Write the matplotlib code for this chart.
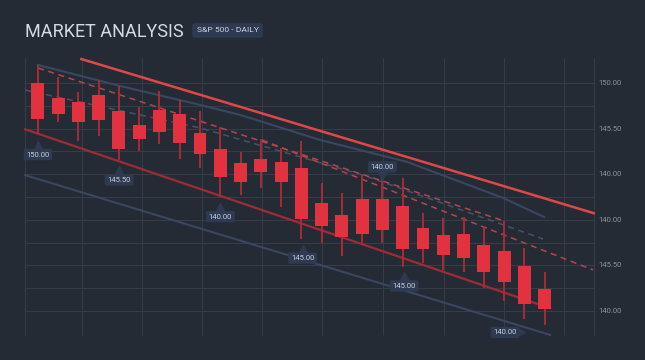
import matplotlib.pyplot as plt
import numpy as np

# daily candles (all bearish): open, close, high, low
opens  = [150.01, 149.36, 149.17, 149.46, 148.77, 148.17, 148.82, 148.64, 147.79, 147.12,
          146.48, 146.67, 146.52, 146.27, 144.75, 144.21, 144.91, 144.91, 144.62, 143.63,
          143.35, 143.36, 142.89, 142.64, 141.99, 140.95]
closes = [148.42, 148.65, 148.28, 148.38, 147.12, 147.54, 147.85, 147.37, 146.89, 145.86,
          145.64, 146.10, 145.64, 144.02, 143.74, 143.25, 143.38, 143.54, 142.72, 142.72,
          142.44, 142.32, 141.70, 141.29, 140.31, 140.10]
highs  = [150.79, 150.25, 149.62, 150.13, 149.87, 148.96, 149.66, 149.25, 148.77, 148.06,
          146.99, 147.56, 147.14, 147.47, 145.60, 145.19, 145.96, 146.21, 145.83, 144.29,
          144.07, 144.11, 143.67, 143.95, 142.75, 141.72]
lows   = [147.76, 148.28, 147.46, 147.69, 146.62, 147.02, 147.32, 146.67, 146.29, 145.01,
          145.09, 145.41, 144.55, 143.16, 142.97, 142.41, 142.89, 142.97, 141.94, 142.09,
          141.80, 141.72, 141.00, 140.45, 139.65, 139.39]

# trend / channel lines (x = candle index, y = price)
top_red_x, top_red_y = [2.15, 27.42], [151.05, 144.29]
blue_up_x = [0.01, 4.06, 8.0, 9.98, 13.93, 18.21, 22.95, 24.97]
blue_up_y = [150.79, 149.87, 149.04, 148.60, 147.50, 146.54, 144.96, 144.12]
blue_low_x, blue_low_y = [-0.63, 25.27], [145.96, 138.95]
red_low_x, red_low_y = [-0.63, 25.27], [147.97, 140.12]
dash_r1_x, dash_r1_y = [0.01, 23.0], [150.66, 143.95]
dash_r2_x, dash_r2_y = [11.06, 27.39], [147.50, 141.80]
dash_b_x = [-0.63, 8.0, 16.04, 24.92]
dash_b_y = [149.69, 148.03, 145.96, 143.16]

# price badges: x, y, text, pointer side
badge_x = [0.01, 4.01, 9.01, 13.06, 18.07, 23.05, 17.0]
badge_y = [146.86, 145.75, 144.14, 142.32, 141.10, 139.06, 146.32]
badge_txt = ['150.00', '145.50', '140.00', '145.00', '145.00', '140.00', '140.00']
badge_ptr = ['up', 'up', 'up', 'up', 'up', 'right', 'down']

# axis labels on the right
tick_pos = [150, 148, 146, 144, 142, 140]
tick_lab = ['150.00', '145.50', '140.00', '140.00', '145.50', '140.00']
grid_x = [-0.63, 2.18, 5.14, 8.10, 11.06, 14.02, 17.03, 20.04, 23.0, 25.96, 27.44]
grid_y = np.arange(140, 151)

bg = '#252b34'
gridc = '#363d48'
red = '#e2313f'
wick = '#a82a37'
badge_bg = '#2d3a51'

fig = plt.figure(figsize=(6.45, 3.6), dpi=100)
fig.patch.set_facecolor(bg)
ax = fig.add_axes([0, 0, 1, 1])
ax.set_facecolor(bg)
ax.set_xlim(-1.865, 29.95)
ax.set_ylim(137.85, 153.64)
ax.axis('off')

ax.vlines(grid_x, 138.95, 151.10, color=gridc, lw=0.8, zorder=1)
ax.hlines(grid_y, -0.63, 27.44, color=gridc, lw=0.8, zorder=1)

for p, t in zip(tick_pos, tick_lab):
    ax.text(27.64, p, t, color='#8d939c', fontsize=5.5, family='Roboto', va='center', ha='left')

# lines behind the candles
ax.plot(dash_b_x, dash_b_y, color='#465267', lw=1.1, ls=(0, (4, 3)), zorder=2)
ax.plot(dash_r1_x, dash_r1_y, color='#b5444e', lw=1.1, ls=(0, (4, 3)), zorder=2)
ax.plot(dash_r2_x, dash_r2_y, color='#b5444e', lw=1.1, ls=(0, (4, 3)), zorder=2)
ax.plot(blue_up_x, blue_up_y, color='#384762', lw=1.5, zorder=2)
ax.plot(blue_low_x, blue_low_y, color='#384762', lw=1.5, zorder=2)
ax.plot(red_low_x, red_low_y, color='#a02a37', lw=1.6, zorder=2)
ax.plot(top_red_x, top_red_y, color='#e0474a', lw=1.8, zorder=2)

# candles
idx = np.arange(len(opens))
o = np.array(opens)
c = np.array(closes)
ax.vlines(idx, lows, highs, color=wick, lw=1.4, zorder=3)
ax.bar(idx, o - c, bottom=c, width=0.64, color=red, zorder=4)

# badges
for x, y, t, s in zip(badge_x, badge_y, badge_txt, badge_ptr):
    ax.text(x, y, t, color='#c6cfdb', fontsize=5.5, family='Roboto', ha='center', va='center',
            zorder=6, bbox=dict(boxstyle='round,pad=0.35,rounding_size=0.2', fc=badge_bg, ec='none'))
    if s == 'up':
        ax.plot(x, y + 0.42, marker='^', ms=6, color=badge_bg, zorder=5)
    elif s == 'down':
        ax.plot(x, y - 0.42, marker='v', ms=6, color=badge_bg, zorder=5)
    else:
        ax.plot(x + 0.8, y, marker='>', ms=6, color=badge_bg, zorder=5)

fig.text(25 / 645, 1 - 32 / 360, 'MARKET ANALYSIS', color='#d5dae1', fontsize=13,
         family='Roboto', va='center', ha='left')
fig.text(227.5 / 645, 1 - 30.5 / 360, 'S&P 500 - DAILY', color='#c9d2de', fontsize=6.1,
         family='Roboto', va='center', ha='center',
         bbox=dict(boxstyle='round,pad=0.5,rounding_size=0.2', fc=badge_bg, ec='none'))

fig.savefig('out.png', dpi=100, facecolor=bg)
